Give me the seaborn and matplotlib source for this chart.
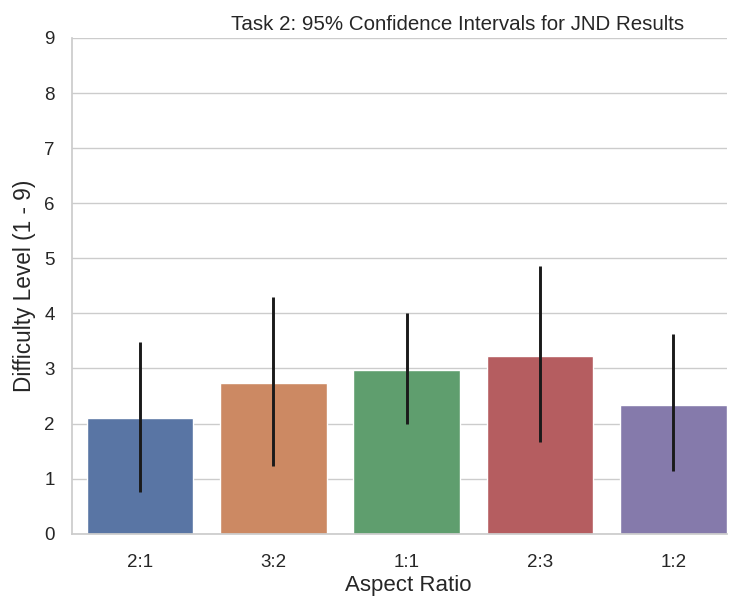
import matplotlib
matplotlib.use("Agg")
import matplotlib.pyplot as plt
import seaborn as sns
import pandas as pd

ratios = ["2:1", "3:2", "1:1", "2:3", "1:2"]
mean_level = [2.10, 2.73, 2.98, 3.22, 2.34]
ci_low = [0.76, 1.23, 2.00, 1.66, 1.13]
ci_high = [3.48, 4.30, 4.00, 4.86, 3.63]

df = pd.DataFrame({"Aspect Ratio": ratios, "Difficulty": mean_level,
                   "lo": ci_low, "hi": ci_high})

sns.set_theme(style="whitegrid")
plt.rcParams["font.family"] = ["Liberation Sans", "DejaVu Sans"]

fig, ax = plt.subplots(figsize=(7.29, 6.03), dpi=100)
sns.barplot(data=df, x="Aspect Ratio", y="Difficulty", hue="Aspect Ratio",
            order=ratios, palette="deep", legend=False, ax=ax)
# CI lines drawn at the category positions
ax.vlines(x=range(len(ratios)), ymin=df["lo"], ymax=df["hi"],
          color="#1a1a1a", lw=2.1, zorder=3)

ax.set_ylim(0, 9)
ax.set_xlim(-0.51, 4.40)
ax.set_yticks(range(10))
ax.set_xlabel("Aspect Ratio", fontsize=16, labelpad=3, x=0.513)
ax.set_ylabel("Difficulty Level (1 - 9)", fontsize=16.3, labelpad=6)
ax.set_title("Task 2: 95% Confidence Intervals for JND Results",
             fontsize=14.8, x=0.589)
ax.tick_params(labelsize=13.5)
ax.tick_params(axis="x", pad=8.5)
ax.tick_params(axis="y", pad=6.5)
sns.despine(ax=ax, top=True, right=True)

fig.subplots_adjust(left=0.099, right=0.997, top=0.937, bottom=0.115)
fig.savefig("out.png", dpi=100)
